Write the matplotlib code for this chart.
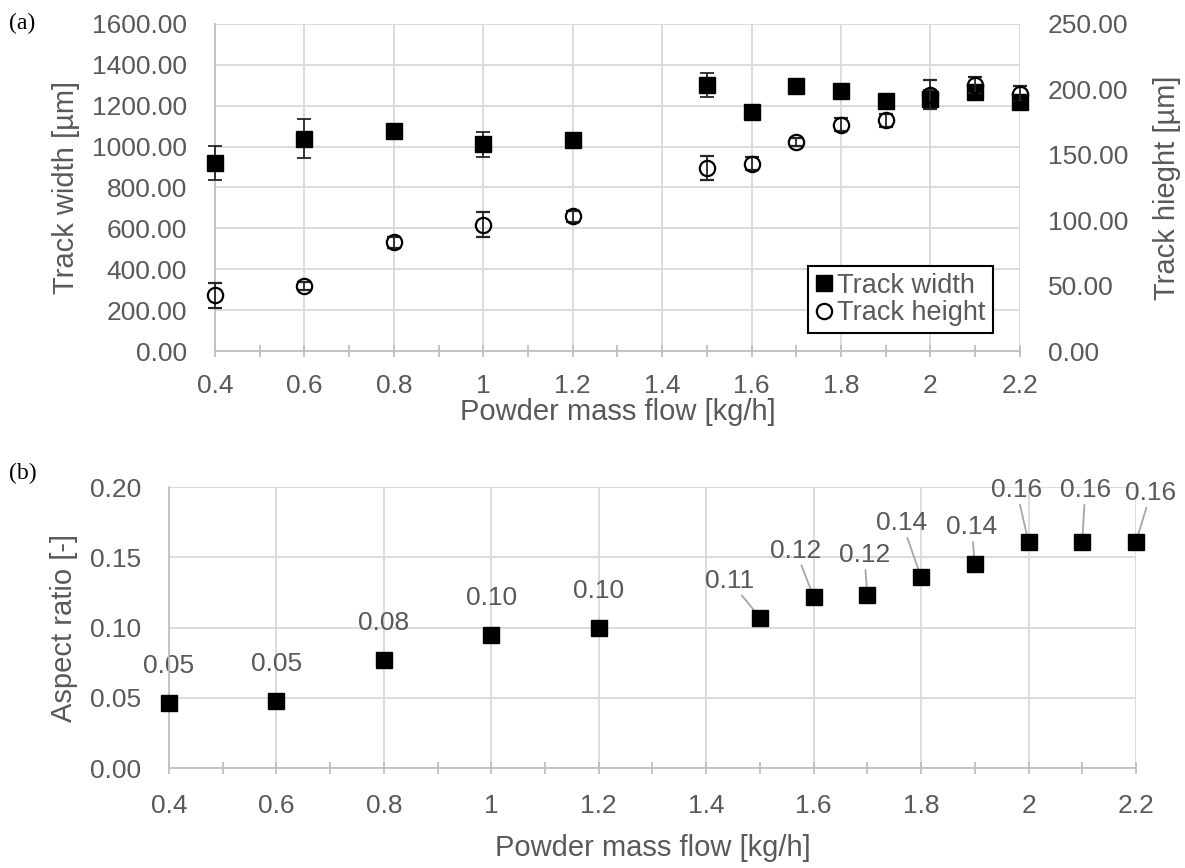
import numpy as np
import matplotlib
matplotlib.use('Agg')
import matplotlib.pyplot as plt
from matplotlib.ticker import MultipleLocator, FixedLocator, FormatStrFormatter

plt.rcParams['font.family'] = ['Liberation Sans', 'DejaVu Sans']

# data
flow = [0.4, 0.6, 0.8, 1.0, 1.2, 1.5, 1.6, 1.7, 1.8, 1.9, 2.0, 2.1, 2.2]
width = [920, 1039, 1077, 1011, 1031, 1301, 1170, 1296, 1273, 1223, 1235, 1268, 1219]
width_err = [82, 95, 25, 60, 20, 57, 20, 20, 20, 20, 40, 20, 30]
height = [42.7, 49.8, 83.1, 96.4, 103.0, 139.8, 143.1, 159.8, 173.0, 176.4, 196.0, 203.2, 196.8]
height_err = [9.6, 3, 4, 9.6, 4, 9, 5, 3, 5, 5, 11, 6, 6]
aspect = [0.046, 0.048, 0.077, 0.095, 0.100, 0.107, 0.122, 0.123, 0.136, 0.145, 0.161, 0.161, 0.161]
aspect_labels = ['0.05', '0.05', '0.08', '0.10', '0.10', '0.11', '0.12', '0.12',
                 '0.14', '0.14', '0.16', '0.16', '0.16']
xtick_vals = [0.4, 0.6, 0.8, 1.0, 1.2, 1.4, 1.6, 1.8, 2.0, 2.2]
xtick_labels = ['0.4', '0.6', '0.8', '1', '1.2', '1.4', '1.6', '1.8', '2', '2.2']

# label offsets in pixels (dx, dy) and whether a leader line is drawn
label_offsets = [(0, 37), (0, 37), (0, 37), (0, 37), (0, 37), (-30, 37), (-18, 46),
                 (-3, 40), (-19, 54), (-3, 37), (-12, 52), (3, 52), (15, 49)]
leader = [False] * 5 + [True] * 8

TXT = '#595959'
GRID = '#d9d9d9'
AX = '#bfbfbf'
TICK_FS = 19
LABEL_FS = 21


def style_axis(ax, xpad):
    ax.set_xlim(0.4, 2.2)
    ax.xaxis.set_major_locator(FixedLocator(xtick_vals))
    ax.set_xticklabels(xtick_labels)
    ax.xaxis.set_minor_locator(MultipleLocator(0.1))
    ax.grid(True, which='major', color=GRID, linewidth=1.3, zorder=0)
    ax.set_axisbelow(True)
    for s in ['top', 'right']:
        ax.spines[s].set_visible(False)
    for s in ['left', 'bottom']:
        ax.spines[s].set_color(AX)
        ax.spines[s].set_linewidth(1.3)
    ax.tick_params(axis='x', which='both', direction='inout', length=9, width=1.3,
                   color=AX, labelsize=TICK_FS, labelcolor=TXT, pad=xpad)
    ax.tick_params(axis='y', length=0, labelsize=TICK_FS, labelcolor=TXT, pad=20)


fig = plt.figure(figsize=(11.85, 8.68), dpi=100)

# (a) track width and height
ax1 = fig.add_axes([0.1814, 0.5956, 0.6793, 0.3768])
style_axis(ax1, 12)
ax1.set_ylim(0, 1600)
ax1.yaxis.set_major_locator(MultipleLocator(200))
ax1.yaxis.set_major_formatter(FormatStrFormatter('%.2f'))
ax1.errorbar(flow, width, yerr=width_err, fmt='s', color='black', ms=12,
             ecolor='#262626', elinewidth=1.3, capsize=5, capthick=1.3,
             clip_on=False, zorder=3, label='Track width')
ax1.set_xlabel('Powder mass flow [kg/h]', fontsize=LABEL_FS, color=TXT, labelpad=0)
ax1.set_ylabel('Track width [µm]', fontsize=LABEL_FS, color=TXT, labelpad=8.5)

ax2 = ax1.twinx()
ax2.set_ylim(0, 250)
ax2.yaxis.set_major_locator(MultipleLocator(50))
ax2.yaxis.set_major_formatter(FormatStrFormatter('%.2f'))
for s in ax2.spines.values():
    s.set_visible(False)
ax2.tick_params(axis='y', length=0, labelsize=TICK_FS, labelcolor=TXT, pad=20)
ax2.errorbar(flow, height, yerr=height_err, fmt='o', mfc='none', mec='black',
             mew=1.6, ms=11, ecolor='#262626', elinewidth=1.3, capsize=5,
             capthick=1.3, clip_on=False, zorder=3, label='Track height')
ax2.set_ylabel('Track hieght [µm]', fontsize=LABEL_FS, color=TXT, labelpad=17.5)

h1, l1 = ax1.get_legend_handles_labels()
h2, l2 = ax2.get_legend_handles_labels()
leg = ax2.legend([h1[0][0], h2[0][0]], l1 + l2, loc='lower right',
                 bbox_to_anchor=(0.966, 0.055), fontsize=19.5, frameon=True,
                 fancybox=False, edgecolor='black', handlelength=0.7,
                 handletextpad=0.15, borderpad=0.25, labelspacing=0.05,
                 borderaxespad=0, framealpha=1)
leg.get_frame().set_linewidth(1.5)
for t in leg.get_texts():
    t.set_color(TXT)

fig.text(0.008, 0.985, '(a)', fontsize=17, family='Liberation Serif', va='top')

# (b) aspect ratio
ax3 = fig.add_axes([0.1426, 0.1152, 0.816, 0.3237])
style_axis(ax3, 14)
ax3.set_ylim(0, 0.20)
ax3.yaxis.set_major_locator(MultipleLocator(0.05))
ax3.yaxis.set_major_formatter(FormatStrFormatter('%.2f'))
ax3.plot(flow, aspect, 's', color='black', ms=12, clip_on=False, zorder=3)
for x, y, lab, off, ld in zip(flow, aspect, aspect_labels, label_offsets, leader):
    kw = {}
    if ld:
        kw['arrowprops'] = dict(arrowstyle='-', color='#a6a6a6', lw=1.3,
                                shrinkA=0, shrinkB=0)
    ax3.annotate(lab, xy=(x, y), xytext=off, textcoords='offset pixels',
                 ha='center', va='center', fontsize=TICK_FS, color=TXT,
                 zorder=2, annotation_clip=False, **kw)
ax3.set_xlabel('Powder mass flow [kg/h]', fontsize=LABEL_FS, color=TXT, labelpad=11.5)
ax3.set_ylabel('Aspect ratio [-]', fontsize=LABEL_FS, color=TXT, labelpad=8.5)

fig.text(0.008, 0.4666, '(b)', fontsize=17, family='Liberation Serif', va='top')

fig.savefig('out.png', dpi=100)
